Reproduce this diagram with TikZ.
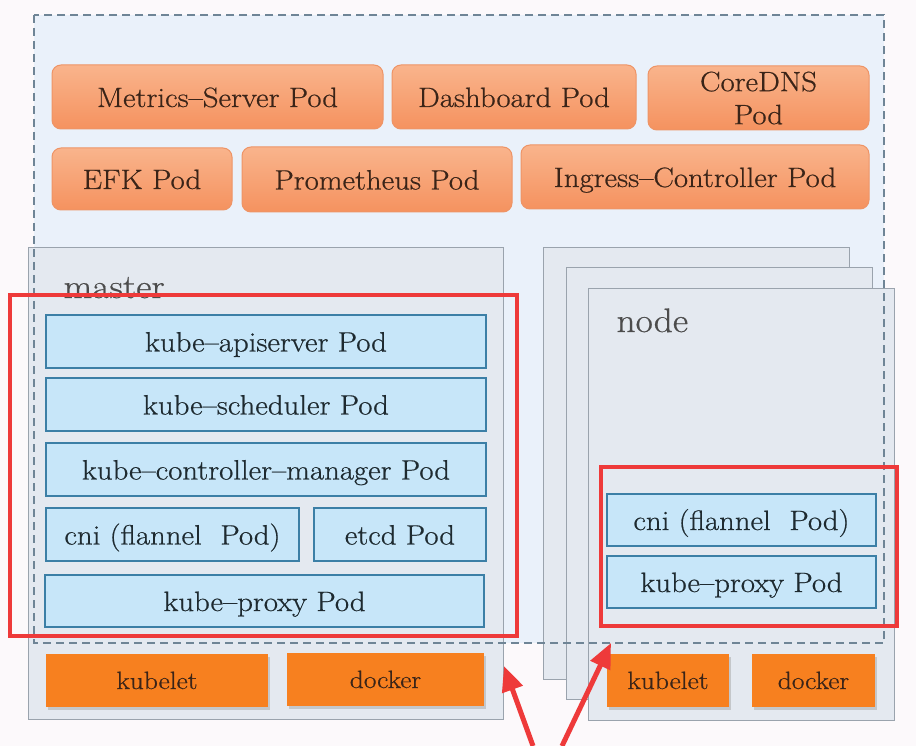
\documentclass[tikz,border=0pt]{standalone}
\usepackage{fontspec}
\setmainfont{Latin Modern Roman}[FakeStretch=1.1, FakeBold=0.6]
\usepackage{tikz}
\usetikzlibrary{arrows.meta,positioning,shadows}
\definecolor{fondo}{HTML}{FCF9FB}
\definecolor{zona}{HTML}{EAF1FA}
\definecolor{raya}{HTML}{6F8596}
\definecolor{tarjeta}{HTML}{E4E9F0}
\definecolor{borde}{HTML}{9AA3AD}
\definecolor{narclaro}{HTML}{F9B48C}
\definecolor{naroscuro}{HTML}{F5925F}
\definecolor{narborde}{HTML}{EE9466}
\definecolor{narfuerte}{HTML}{F7801F}
\definecolor{azulpod}{HTML}{C7E6F9}
\definecolor{azulborde}{HTML}{3C7FA6}
\definecolor{rojo}{HTML}{EE3A3A}
\definecolor{texto}{HTML}{3A2418}
\definecolor{tinta}{HTML}{1E2A30}

\tikzset{
  caja/.style={anchor=north west, inner sep=0pt, outer sep=0pt},
  una/.style={text height=23pt, text depth=3pt},
  addon/.style={caja, rounded corners=9pt, draw=narborde, line width=1pt,
    top color=narclaro, bottom color=naroscuro, text=texto,
    font=\fontsize{28}{33}\selectfont, align=center},
  addon1/.style={addon, una},
  pod/.style={caja, una, draw=azulborde, line width=1.3pt, fill=azulpod,
    text=tinta, font=\fontsize{28}{30}\selectfont},
  base/.style={caja, fill=narfuerte, text=texto, font=\fontsize{25}{27}\selectfont,
    text height=20pt, text depth=3pt,
    drop shadow={shadow xshift=2pt, shadow yshift=-3pt, fill=black!35}},
  tarj/.style={caja, draw=borde, line width=0.9pt, fill=tarjeta},
  rotulo/.style={anchor=base west, text=black!70, font=\fontsize{34}{36}\selectfont},
  marco/.style={draw=rojo, line width=4pt},
  flecha/.style={rojo, line width=5pt, -{Triangle[width=21pt,length=25pt]}}
}

\begin{document}
\begin{tikzpicture}[x=1pt, y=-1pt]
    \useasboundingbox[fill=fondo] (0,0) rectangle (916,746);

    % Zona del cluster (relleno)
    \fill[zona] (34,15) rectangle (884,643);

    % Tarjetas: master y pila de nodos
    \node[tarj, minimum width=475pt, minimum height=472pt] (master) at (28,247) {};
    \foreach \n/\x/\y in {3/543/247, 2/566/267, 1/588/288}
        \node[tarj, minimum width=306pt, minimum height=432pt] (nodo\n) at (\x,\y) {};

    \node[rotulo] (lmaster) at (60,298) {master};
    \node[rotulo] (lnodo) at (613,332) {node};

    % Pods de complementos
    \node[addon1, minimum width=331pt, minimum height=64pt] (metrics) at (52,65) {Metrics--Server Pod};
    \node[addon1, minimum width=244pt, minimum height=64pt] (dashboard) at (392,65) {Dashboard Pod};
    \node[addon, minimum width=221pt, minimum height=64pt] (coredns) at (648,66) {CoreDNS\\Pod};
    \node[addon1, minimum width=180pt, minimum height=62pt] (efk) at (52,148) {EFK Pod};
    \node[addon1, minimum width=270pt, minimum height=65pt] (prometheus) at (242,147) {Prometheus Pod};
    \node[addon1, minimum width=348pt, minimum height=64pt] (ingress) at (521,145) {Ingress--Controller Pod};

    % Componentes del master
    \node[pod, minimum width=440pt, minimum height=53pt] (apiserver) at (46,315) {kube--apiserver Pod};
    \node[pod, minimum width=440pt, minimum height=53pt] (scheduler) at (46,378) {kube--scheduler Pod};
    \node[pod, minimum width=440pt, minimum height=53pt] (controller) at (46,443) {kube--controller--manager Pod};
    \node[pod, minimum width=253pt, minimum height=53pt] (cnim) at (46,508) {cni (flannel\ \ Pod)};
    \node[pod, minimum width=172pt, minimum height=53pt] (etcd) at (314,508) {etcd Pod};
    \node[pod, minimum width=439pt, minimum height=52pt] (proxym) at (45,575) {kube--proxy Pod};
    \node[base, minimum width=222pt, minimum height=53pt] (kubeletm) at (46,654) {kubelet};
    \node[base, minimum width=197pt, minimum height=53pt] (dockerm) at (287,653) {docker};

    % Componentes del nodo
    \node[pod, minimum width=269pt, minimum height=52pt] (cnin) at (607,494) {cni (flannel\ \ Pod)};
    \node[pod, minimum width=269pt, minimum height=52pt] (proxyn) at (607,556) {kube--proxy Pod};
    \node[base, minimum width=122pt, minimum height=53pt] (kubeletn) at (607,654) {kubelet};
    \node[base, minimum width=123pt, minimum height=53pt] (dockern) at (752,654) {docker};

    % Borde discontinuo del cluster
    \draw[raya, line width=1.2pt, dash pattern=on 8pt off 5pt] (34,15) rectangle (884,643);

    % Marcos rojos
    \draw[marco] (10,295) rectangle (517,636);
    \draw[marco] (601,467) rectangle (897,626);

    % Flechas
    \coordinate (cola1) at (533,746);
    \coordinate (punta1) at (504,666);
    \coordinate (cola2) at (562,746);
    \coordinate (punta2) at (611,643);
    \draw[flecha] (cola1) -- (punta1);
    \draw[flecha] (cola2) -- (punta2);
\end{tikzpicture}
\end{document}
